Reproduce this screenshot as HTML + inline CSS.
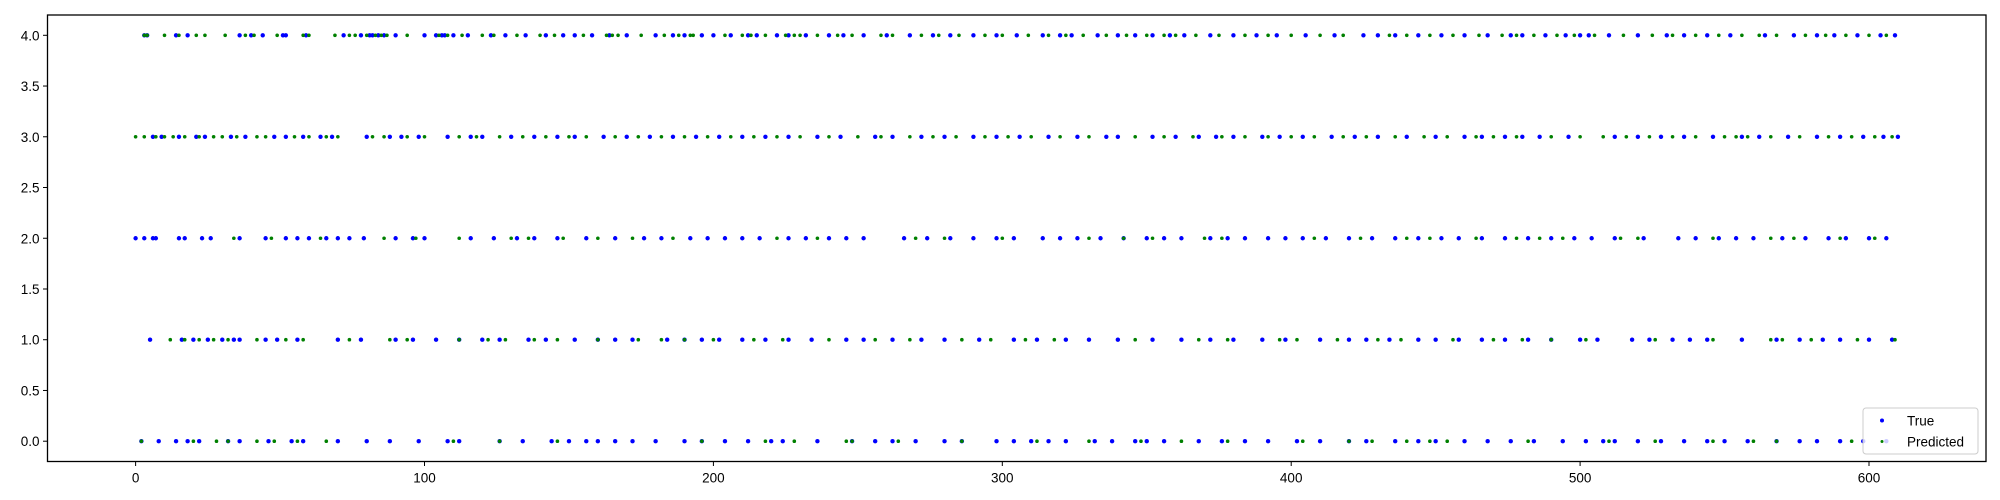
<!DOCTYPE html>
<html><head><meta charset="utf-8"><style>
html,body{margin:0;padding:0;background:#fff;}
svg{display:block;font-family:"Liberation Sans","DejaVu Sans",sans-serif;}
</style></head><body>
<svg id="chart" width="2000" height="500" viewBox="0 0 2000 500">
<rect x="0" y="0" width="2000" height="500" fill="#fff"/>
<g id="marks"></g>
<g id="axes"></g>
<rect x="47.5" y="15" width="1938.5" height="446.5" fill="none" stroke="#000" stroke-width="1.3"/>
<g>
<rect x="1863" y="408" width="115" height="46" rx="3" fill="#fff" fill-opacity="0.8" stroke="#ccc" stroke-width="1"/>
<circle cx="1882" cy="420.5" r="2" fill="#0000ff"/>
<text x="1907" y="425.5" font-size="13.5" fill="#000">True</text>
<circle cx="1882" cy="441.5" r="1.5" fill="#008000"/>
<text x="1907" y="446.5" font-size="13.5" fill="#000">Predicted</text>
</g>
</svg>
<script>
const xTicks=[0,100,200,300,400,500,600];
const yTicks=[0,0.5,1,1.5,2,2.5,3,3.5,4];
const true4=[3,4,14,18,36,40,44,51,52,59,72,78,81,82,84,86,90,100,104,106,107,110,115,123,128,135,142,148,152,158,164,170,180,186,190,196,200,206,212,215,222,226,232,240,245,252,260,268,276,282,290,298,305,314,320,324,333,340,346,352,358,363,372,380,388,395,405,415,425,430,436,444,452,460,468,476,480,488,495,500,503,510,520,530,536,544,552,564,574,582,588,596,604,609];
const pred4=[3,4,10,15,21,24,31,38,41,49,58,60,69,74,76,80,83,85,87,94,105,108,113,120,124,132,140,145,155,163,165,167,175,183,188,192,193,204,210,213,218,225,228,230,236,243,248,258,262,272,278,285,294,300,309,316,322,328,336,343,350,356,360,367,375,384,392,400,410,418,434,440,448,456,465,473,478,484,492,498,505,515,525,532,540,548,556,562,568,578,585,592,600,606];
const true3=[6,9,15,21,24,33,38,48,52,58,64,68,80,88,92,98,108,116,120,130,138,146,152,162,170,178,186,194,202,210,218,226,236,244,256,262,272,280,290,298,306,316,326,336,340,352,360,368,374,380,390,396,404,414,422,430,440,450,460,466,474,480,486,496,512,520,528,536,546,556,562,572,582,590,598,605,610];
const pred3=[0,3,7,10,13,17,22,27,30,35,42,45,55,60,66,70,82,86,94,100,112,118,126,134,142,150,156,166,174,182,190,198,206,214,222,230,240,250,258,268,276,284,294,302,310,320,330,346,356,366,376,384,392,400,408,418,426,436,446,454,464,470,478,490,500,508,516,524,532,540,550,554,558,566,576,586,594,602,608];
const true2=[0,3,6,7,15,17,23,26,36,45,52,56,60,66,70,74,79,90,96,100,116,124,132,138,146,156,166,176,182,192,198,204,210,216,226,232,240,246,252,266,274,282,290,298,304,314,320,326,334,342,350,356,362,372,378,384,392,398,404,412,420,428,436,444,452,458,466,474,482,490,498,504,512,522,534,540,548,554,560,570,578,586,592,600,606];
const pred2=[34,47,64,86,97,112,130,136,148,160,172,186,222,236,270,280,300,330,342,352,370,376,408,424,440,448,464,478,486,494,514,520,546,566,574,590,602];
const true1=[5,16,20,25,30,34,36,45,49,56,70,78,90,96,104,112,120,126,136,142,152,160,166,172,184,190,196,202,210,218,226,234,246,252,262,272,280,292,304,312,322,330,340,352,362,372,380,390,398,410,420,426,434,444,450,458,466,474,482,490,500,506,518,524,532,538,544,556,568,576,584,590,600,608];
const pred1=[12,17,22,27,32,42,52,58,74,88,94,112,122,128,138,146,160,174,182,190,200,214,224,240,256,268,286,296,308,318,346,368,378,396,402,416,430,438,456,470,480,490,502,526,546,566,570,580,596,609];
const true0=[2,8,14,18,22,32,36,46,54,58,70,80,88,98,108,112,126,134,144,150,156,160,166,172,180,190,196,204,212,220,224,236,248,256,262,270,280,286,298,304,310,316,322,332,338,346,350,356,368,376,384,392,402,410,420,426,436,444,450,460,468,476,484,494,502,508,512,520,528,536,544,550,558,568,576,582,590,598,606];
const pred0=[2,20,28,32,42,48,56,66,110,126,146,196,218,228,246,248,264,286,312,330,348,362,378,404,420,428,440,448,454,482,510,526,546,560,568,594];

const NS='http://www.w3.org/2000/svg';
const X0=47.5,X1=1986,Y0=15,Y1=461.5;
const xmin=-30.5,xmax=640.5,ymin=-0.2,ymax=4.2;
function sx(v){return X0+(v-xmin)/(xmax-xmin)*(X1-X0);}
function sy(v){return Y1-(v-ymin)/(ymax-ymin)*(Y1-Y0);}
const marks=document.getElementById('marks');
const axes=document.getElementById('axes');
function dot(i,cls,r,col,name){
  const c=document.createElementNS(NS,'circle');
  c.setAttribute('cx',sx(i).toFixed(2));
  c.setAttribute('cy',sy(cls).toFixed(2));
  c.setAttribute('r',r);
  c.setAttribute('fill',col);
  
  
  marks.appendChild(c);
}
[[true0,0],[true1,1],[true2,2],[true3,3],[true4,4]].forEach(([arr,c])=>arr.forEach(i=>dot(i,c,2.2,'#0000ff','true-point')));
[[pred0,0],[pred1,1],[pred2,2],[pred3,3],[pred4,4]].forEach(([arr,c])=>arr.forEach(i=>dot(i,c,1.8,'#008000','predicted-point')));
xTicks.forEach(t=>{
  const x=sx(t);
  const l=document.createElementNS(NS,'line');
  l.setAttribute('x1',x);l.setAttribute('x2',x);l.setAttribute('y1',Y1);l.setAttribute('y2',Y1+4.5);
  l.setAttribute('stroke','#000');l.setAttribute('stroke-width','1');
  
  
  axes.appendChild(l);
  const tx=document.createElementNS(NS,'text');
  tx.setAttribute('x',x);tx.setAttribute('y',Y1+21);tx.setAttribute('text-anchor','middle');
  tx.setAttribute('font-size','13.5');tx.textContent=t;
  
  
  axes.appendChild(tx);
});
yTicks.forEach(t=>{
  const y=sy(t);
  const l=document.createElementNS(NS,'line');
  l.setAttribute('x1',X0-4.5);l.setAttribute('x2',X0);l.setAttribute('y1',y);l.setAttribute('y2',y);
  l.setAttribute('stroke','#000');l.setAttribute('stroke-width','1');
  
  
  axes.appendChild(l);
  const tx=document.createElementNS(NS,'text');
  tx.setAttribute('x',X0-8);tx.setAttribute('y',y+5);tx.setAttribute('text-anchor','end');
  tx.setAttribute('font-size','13.5');tx.textContent=t.toFixed(1);
  
  
  axes.appendChild(tx);
});
</script>
</body></html>
